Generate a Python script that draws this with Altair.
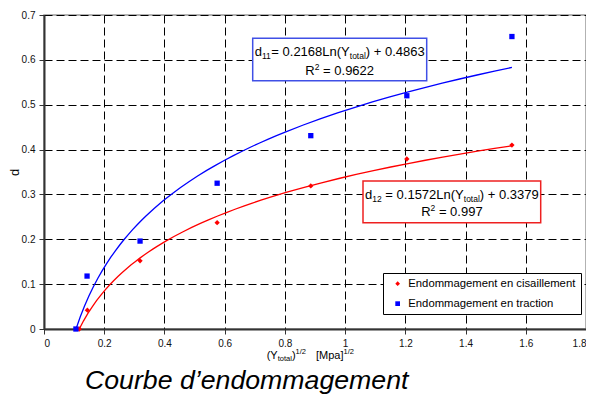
import altair as alt
import pandas as pd

# ---------------- data ----------------
series_names = ["Endommagement en cisaillement", "Endommagement en traction"]
series_colors = ["#ff0000", "#0000ff"]
series_shapes = ["diamond", "square"]

cis_x = [0.117, 0.144, 0.319, 0.575, 0.886, 1.205, 1.554]
cis_d = [0.0, 0.042, 0.152, 0.237, 0.319, 0.379, 0.410]

traction_x = [0.106, 0.143, 0.319, 0.575, 0.886, 1.205, 1.554]
traction_d = [0.0, 0.118, 0.196, 0.325, 0.431, 0.520, 0.652]

x_ticks = [0, 0.2, 0.4, 0.6, 0.8, 1, 1.2, 1.4, 1.6, 1.8]
y_ticks = [0, 0.1, 0.2, 0.3, 0.4, 0.5, 0.6, 0.7]

eq_traction = [("d", "n"), ("11", "sub"), ("= 0.2168Ln(Y", "n"), ("total", "sub"), (") + 0.4863", "n")]
r2_traction = [("R", "n"), ("2", "sup"), (" = 0.9622", "n")]
eq_cis = [("d", "n"), ("12", "sub"), (" = 0.1572Ln(Y", "n"), ("total", "sub"), (") + 0.3379", "n")]
r2_cis = [("R", "n"), ("2", "sup"), (" = 0.997", "n")]
x_title = [("(Y", "n"), ("total", "sub"), (")", "n"), ("1/2", "sup"), ("  ", "gap"), ("[Mpa]", "n"), ("1/2", "sup")]
y_title = "d"
chart_title = "Courbe d\u2019endommagement"

# ---------------- build tables ----------------
rows = []
for name, xs, ds in [(series_names[0], cis_x, cis_d), (series_names[1], traction_x, traction_d)]:
    for xv, dv in zip(xs, ds):
        rows.append({"x": xv, "d": dv, "series": name})
df = pd.DataFrame(rows)

FONT = "Liberation Sans, Arial, Helvetica, sans-serif"

# Arial advance widths (per 1000 em) used to place rich-text pieces
AW = {' ': 278, '(': 333, ')': 333, '+': 584, '.': 278, '/': 278, '=': 584, '[': 278,
      ']': 278, 'L': 556, 'M': 833, 'R': 722, 'Y': 667, 'a': 556, 'd': 556, 'l': 222,
      'n': 556, 'o': 556, 'p': 556, 't': 278}


def text_w(s, size):
    return sum(AW.get(c, 556) for c in s) * size / 1000.0


def rich_text(segments, x, y, size, small, sub_dy, sup_dy, gap=10, center=False):
    pieces = []
    for txt, kind in segments:
        if kind == "gap":
            pieces.append((None, 0, 0, gap))
            continue
        fs = size if kind == "n" else small
        dy = 0 if kind == "n" else (sub_dy if kind == "sub" else sup_dy)
        stripped = txt.lstrip(" ")
        lead = len(txt) - len(stripped)
        if lead:
            pieces.append((None, 0, 0, text_w(" " * lead, fs)))
        pieces.append((stripped, fs, dy, text_w(stripped, fs)))
    total = sum(p[3] for p in pieces)
    cx = x - total / 2 if center else x
    layers = []
    for txt, fs, dy, w in pieces:
        if txt is not None:
            layers.append(
                alt.Chart(pd.DataFrame({"t": [txt]}))
                .mark_text(align="left", baseline="alphabetic", font=FONT, fontSize=fs, color="black")
                .encode(x=alt.value(cx), y=alt.value(y + dy), text="t:N")
            )
        cx += w
    return layers


def box(x1, x2, y1, y2, stroke):
    return (
        alt.Chart(pd.DataFrame({"b": [0]}))
        .mark_rect(fill="white", stroke=stroke, strokeWidth=1.5)
        .encode(x=alt.value(x1), x2=alt.value(x2), y=alt.value(y1), y2=alt.value(y2))
    )


x_enc = alt.X(
    "x:Q",
    scale=alt.Scale(domain=[0, 1.8], nice=False),
    axis=alt.Axis(values=x_ticks, format="~g", title=None, labelFontSize=10, labelPadding=4,
                  tickSize=5, labelColor="#111", labelFont=FONT, labelFlush=True),
)
y_enc = alt.Y(
    "d:Q",
    scale=alt.Scale(domain=[0, 0.7], nice=False),
    axis=alt.Axis(values=y_ticks, format="~g", title=y_title, labelFontSize=10, labelPadding=4,
                  tickSize=5, labelColor="#111", labelFont=FONT, titleFont=FONT, titleFontSize=13,
                  titleFontWeight="normal", titleColor="black", titleX=-23, titleY=157),
)

legend = alt.Legend(
    title=None, orient="none", legendX=339, legendY=258, strokeColor="black", fillColor="white",
    padding=5, labelFont=FONT, labelFontSize=11.3, labelColor="black", rowPadding=8,
    symbolSize=22, symbolOffset=4, labelOffset=5, cornerRadius=0, labelLimit=300,
)
color_scale = alt.Scale(domain=series_names, range=series_colors)
shape_scale = alt.Scale(domain=series_names, range=series_shapes)

# logarithmic trend lines (Vega-Lite regression), one layer per series
curve_layers = []
for name, col in zip(series_names, series_colors):
    curve_layers.append(
        alt.Chart(df)
        .transform_filter(alt.datum.series == name)
        .transform_regression("x", "d", method="log")
        .mark_line(clip=True, strokeWidth=1.3, color=col)
        .encode(x=x_enc, y=y_enc)
    )

points = (
    alt.Chart(df)
    .mark_point(filled=True, opacity=1, size=28)
    .encode(
        x=x_enc,
        y=y_enc,
        color=alt.Color("series:N", scale=color_scale, legend=legend),
        shape=alt.Shape("series:N", scale=shape_scale, legend=legend),
    )
)

annotations = []
annotations.append(box(208.7, 382.7, 23.3, 65.7, "#4050e6"))
annotations += rich_text(eq_traction, 295.7, 40.5, 13, 8.5, 3, -5, center=True)
annotations += rich_text(r2_traction, 295.7, 59.5, 13, 8.5, 3, -5, center=True)
annotations.append(box(319, 496.7, 166, 207.7, "#ee2020"))
annotations += rich_text(eq_cis, 407.9, 183.5, 13, 8.5, 3, -5, center=True)
annotations += rich_text(r2_cis, 407.9, 201, 13, 8.5, 3, -5, center=True)
annotations += rich_text(x_title, 222.7, 343.5, 11, 7.5, 2.5, -4.5, gap=10)

title_mark = (
    alt.Chart(pd.DataFrame({"t": [chart_title]}))
    .mark_text(align="left", baseline="alphabetic", font=FONT, fontSize=26.7, fontStyle="italic",
               color="black")
    .encode(x=alt.value(41), y=alt.value(374), text="t:N")
)

chart = (
    alt.layer(*curve_layers, points, *annotations, title_mark)
    .properties(
        width=542,
        height=314,
        autosize=alt.AutoSizeParams(type="none"),
        padding={"left": 36, "top": 7, "right": 0, "bottom": 66},
    )
    .configure_view(stroke="#999999", strokeWidth=1.5)
    .configure_axis(
        grid=True, gridColor="black", gridDash=[8, 4], gridWidth=1, gridOpacity=1,
        domainColor="#333333", domainWidth=2, tickColor="#333333", tickWidth=1,
    )
)

chart.save("out.html", embed_options={"renderer": "svg", "actions": False})
